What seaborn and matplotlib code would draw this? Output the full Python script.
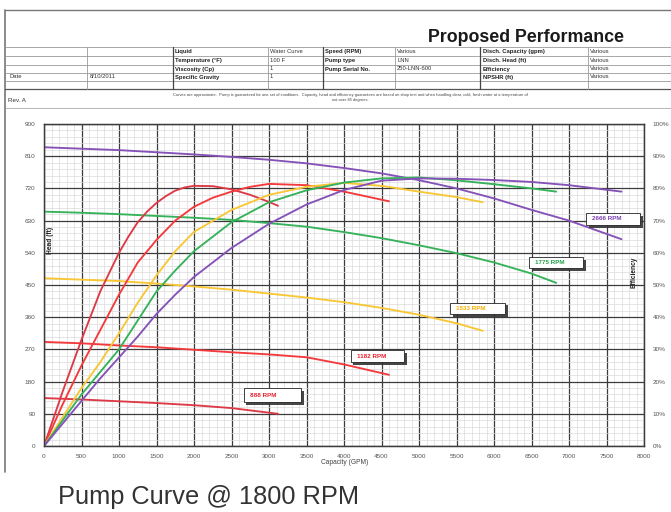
import numpy as np
import pandas as pd
import seaborn as sns
import matplotlib.pyplot as plt
from matplotlib.ticker import MultipleLocator
from matplotlib.patches import Rectangle
from matplotlib.lines import Line2D
import matplotlib.patheffects as pe

# ---- data ----
speeds = ["888 RPM", "1182 RPM", "1533 RPM", "1775 RPM", "2666 RPM"]
colors = ["#dc3a46", "#f43a3c", "#f8c735", "#35b25a", "#8552b8"]
label_colors = ["#e8202c", "#e8202c", "#f5b000", "#22a04a", "#7a3fb0"]

# head curves (ft) vs capacity (GPM)
cap_h_888 = [0, 500, 1000, 1500, 2000, 2500, 3120]
head_888 = [134, 130, 125, 120, 114, 106, 90]
cap_h_1182 = [0, 500, 1000, 1500, 2000, 2500, 3000, 3500, 4000, 4600]
head_1182 = [291, 287, 281, 276, 269, 262, 256, 248, 228, 199]
cap_h_1533 = [0, 500, 1000, 1500, 2000, 2500, 3000, 3500, 4000, 4500, 5000, 5500, 5850]
head_1533 = [469, 465, 461, 454, 446, 437, 426, 415, 402, 386, 367, 343, 322]
cap_h_1775 = [0, 500, 1000, 1500, 2000, 2500, 3000, 3500, 4000, 4500, 5000, 5500, 6000, 6500, 6830]
head_1775 = [655, 652, 648, 643, 638, 632, 623, 613, 598, 581, 561, 539, 513, 482, 456]
cap_h_2666 = [0, 500, 1000, 1500, 2000, 2500, 3000, 3500, 4000, 4500, 5000, 5500, 6000, 6500, 7000, 7700]
head_2666 = [835, 831, 827, 821, 815, 808, 800, 790, 777, 762, 743, 720, 692, 660, 630, 578]

# efficiency curves (%) vs capacity (GPM)
cap_e_888 = [0, 250, 500, 750, 1000, 1125, 1250, 1375, 1500, 1625, 1750, 1875, 2000, 2250, 2500, 2750, 3000, 3120]
eff_888 = [0, 17, 33, 48, 60, 65, 69.5, 72.8, 75.5, 77.6, 79.3, 80.3, 80.8, 80.7, 79.7, 78, 75.8, 74.6]
cap_e_1182 = [0, 250, 500, 750, 1000, 1250, 1500, 1750, 2000, 2250, 2500, 2750, 3000, 3500, 4000, 4600]
eff_1182 = [0, 13, 25, 36, 47, 57, 64, 70, 74.3, 77.1, 79, 80.5, 81.4, 81, 79, 76]
cap_e_1533 = [0, 250, 500, 750, 1000, 1250, 1500, 1750, 2000, 2500, 3000, 3500, 4000, 4500, 5000, 5500, 5850]
eff_1533 = [0, 9, 18, 26, 35, 44.5, 53, 60.5, 66.5, 73.3, 78, 80.5, 81.7, 80.8, 79, 77.3, 75.7]
cap_e_1775 = [0, 250, 500, 750, 1000, 1250, 1500, 1750, 2000, 2500, 3000, 3500, 4000, 4500, 5000, 5500, 6000, 6500, 6830]
eff_1775 = [0, 8, 16, 23, 30, 39, 48, 54.5, 60.5, 69.5, 75.7, 79.4, 81.8, 83.1, 83.4, 82.5, 81.3, 80, 79]
cap_e_2666 = [0, 250, 500, 750, 1000, 1250, 1500, 1750, 2000, 2500, 3000, 3500, 4000, 4500, 5000, 5500, 6000, 6500, 7000, 7700]
eff_2666 = [0, 7, 14, 21, 27.5, 34, 41, 47, 52.5, 61.5, 69, 75, 79.5, 82.4, 83.1, 83, 82.6, 82, 81, 79]

head_sets = [(cap_h_888, head_888), (cap_h_1182, head_1182), (cap_h_1533, head_1533),
             (cap_h_1775, head_1775), (cap_h_2666, head_2666)]
eff_sets = [(cap_e_888, eff_888), (cap_e_1182, eff_1182), (cap_e_1533, eff_1533),
            (cap_e_1775, eff_1775), (cap_e_2666, eff_2666)]

head_df = pd.concat([pd.DataFrame({"Capacity": c, "Head": h, "Speed": s})
                     for s, (c, h) in zip(speeds, head_sets)], ignore_index=True)
eff_df = pd.concat([pd.DataFrame({"Capacity": c, "Eff": e, "Speed": s})
                    for s, (c, e) in zip(speeds, eff_sets)], ignore_index=True)
pal = dict(zip(speeds, colors))

# ---- figure ----
sns.set_style("white")
plt.rcParams["font.family"] = ["Liberation Sans", "DejaVu Sans"]

W, H = 671, 512
fig = plt.figure(figsize=(W / 100, H / 100), dpi=100)
ax = fig.add_axes([44 / W, 1 - 446 / H, 600 / W, 322 / H])
ax2 = ax.twinx()

sns.lineplot(data=head_df, x="Capacity", y="Head", hue="Speed", palette=pal,
             sort=False, estimator=None, legend=False, ax=ax, linewidth=1.35)
sns.lineplot(data=eff_df, x="Capacity", y="Eff", hue="Speed", palette=pal,
             sort=False, estimator=None, legend=False, ax=ax2, linewidth=1.35)
for a in (ax, ax2):
    for ln in a.lines:
        ln.set_solid_joinstyle("round")

ax.set_xlim(0, 8000)
ax.set_ylim(0, 900)
ax2.set_ylim(0, 100)
ax.xaxis.set_major_locator(MultipleLocator(500))
ax.xaxis.set_minor_locator(MultipleLocator(100))
ax.yaxis.set_major_locator(MultipleLocator(90))
ax.yaxis.set_minor_locator(MultipleLocator(18))
ax2.set_yticks(range(0, 101, 10))
ax2.set_yticklabels([f"{v}%" for v in range(0, 101, 10)])

ax.grid(which="major", color="#3c3c3c", linewidth=0.9)
ax.grid(which="minor", color="#dadada", linewidth=0.5)
ax.set_axisbelow(True)
ax2.grid(False)
for a in (ax, ax2):
    for sp in a.spines.values():
        sp.set_color("#3c3c3c")
        sp.set_linewidth(0.9)
ax.tick_params(which="both", length=0, labelsize=4.6, labelcolor="#555555", pad=6)
ax2.tick_params(which="both", length=0, labelsize=4.6, labelcolor="#555555", pad=6)
ax.set_xlabel("")
ax.set_ylabel("")
ax2.set_ylabel("")

def fx(x):
    return x / W

def fy(y):
    return 1 - y / H

fig.text(fx(345), fy(463), "Capacity (GPM)", fontsize=4.8, color="#444444", ha="center", va="center")
fig.text(fx(50), fy(240), "Head (ft)", fontsize=4.8, color="#222222", rotation=90,
         ha="center", va="center", fontweight="bold")
fig.text(fx(634), fy(272), "Efficiency", fontsize=4.8, color="#222222", rotation=90,
         ha="center", va="center", fontweight="bold")

# speed labels with shadowed boxes (data coords)
label_boxes = [(2660, 123, 773, 39), (4087, 235, 713, 32), (5413, 369, 733, 32),
               (6466, 497, 720, 30), (7226, 618, 720, 33)]
for s, c, (bx, by, bw, bh) in zip(speeds, label_colors, label_boxes):
    r = Rectangle((bx, by), bw, bh, facecolor="white", edgecolor="#222222", linewidth=0.6, zorder=5)
    r.set_path_effects([pe.SimplePatchShadow(offset=(2, -2), shadow_rgbFace="#333333", alpha=0.9), pe.Normal()])
    ax.add_patch(r)
    ax.text(bx + 80, by + bh / 2, s, color=c, fontsize=4.5, fontweight="bold",
            ha="left", va="center", zorder=6)

# ---- header frame and table ----
def hline(y, x0, x1, color="#9a9a9a", lw=0.6):
    fig.add_artist(Line2D([fx(x0), fx(x1)], [fy(y), fy(y)], color=color, linewidth=lw))

def vline(x, y0, y1, color="#9a9a9a", lw=0.6):
    fig.add_artist(Line2D([fx(x), fx(x)], [fy(y0), fy(y1)], color=color, linewidth=lw))

hline(10, 5, 671, "#777777", 1.0)
vline(5, 10, 472, "#777777", 1.2)

fig.text(fx(526), fy(38), "Proposed Performance", fontsize=12.8, fontweight="bold",
         color="#1a1a1a", ha="center", va="center")

rows = [47, 56, 65, 73, 81, 89]
for y in rows:
    hline(y, 5, 671)
hline(89, 5, 671, "#555555", 0.9)
hline(108, 5, 671, "#aaaaaa", 0.6)
for x in [87, 268, 395, 588]:
    vline(x, 47, 89)
for x in [173, 323, 480]:
    vline(x, 47, 89, "#444444", 0.9)

tbl_labels = [(175, 51.5, "Liquid"), (175, 60.5, "Temperature (°F)"), (175, 69, "Viscosity (Cp)"),
              (175, 77, "Specific Gravity"), (325, 51.5, "Speed (RPM)"), (325, 60.5, "Pump type"),
              (325, 69, "Pump Serial No."), (483, 51.5, "Disch. Capacity (gpm)"),
              (483, 60.5, "Disch. Head (ft)"), (483, 69, "Efficiency"), (483, 77, "NPSHR (ft)")]
tbl_values = [(270, 51.5, "Water Curve"), (270, 60.5, "100 F"), (270, 69, "1"), (270, 77, "1"),
              (397, 51.5, "Various"), (397, 60.5, "LNN"), (397, 69, "250-LNN-600"),
              (590, 51.5, "Various"), (590, 60.5, "Various"), (590, 69, "Various"), (590, 77, "Various"),
              (10, 77, "Date"), (90, 77, "8/10/2011")]
for x, y, t in tbl_labels:
    fig.text(fx(x), fy(y), t, fontsize=4.2, fontweight="bold", color="#222222", va="center")
for x, y, t in tbl_values:
    fig.text(fx(x), fy(y), t, fontsize=4.2, color="#333333", va="center")

fig.text(fx(8), fy(101), "Rev. A", fontsize=4.5, color="#333333", va="center")
fig.text(fx(350), fy(95),
         "Curves are approximate.  Pump is guaranteed for one set of conditions.  Capacity, head and efficiency "
         "guarantees are based on shop test and when handling clear, cold, fresh water at a temperature of",
         fontsize=2.9, color="#444444", ha="center", va="center")
fig.text(fx(350), fy(100.5), "not over 85 degrees.", fontsize=2.9, color="#444444", ha="center", va="center")

fig.text(fx(58), fy(497), "Pump Curve @ 1800 RPM", fontsize=18.3, color="#333333", ha="left", va="center")

fig.savefig("out.png", dpi=100)
